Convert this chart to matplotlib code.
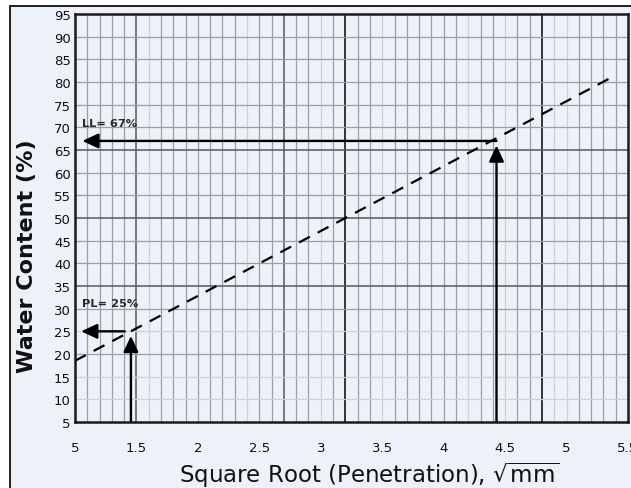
import matplotlib
matplotlib.use("Agg")
import matplotlib.pyplot as plt
from matplotlib.patches import Rectangle

# ---- data ----
x_ticks = [1.0, 1.5, 2.0, 2.5, 3.0, 3.5, 4.0, 4.5, 5.0, 5.5]
x_tick_labels = ["5", "1.5", "2", "2.5", "3", "3.5", "4", "4.5", "5", "5.5"]
y_ticks = [5, 10, 15, 20, 25, 30, 35, 40, 45, 50, 55, 60, 65, 70, 75, 80, 85, 90, 95]

# flow line (dashed)
flow_x = [1.0, 5.4]
flow_y = [18.5, 81.5]

# plastic limit / liquid limit readings
pl_value = 25
pl_root = 1.455
ll_value = 67
ll_root = 4.43

# grid shading for each 0.1 step (1.1 .. 5.4) and each 5 % step (10 .. 90)
x_grid_shade = "mmmmdlmmmmmmmlmmdmmlmkmmlmmmmmmlmmlmmkllmmmm"
y_grid_shade = "llmlmdmmdmmdmmmmm"

BG = "#edf1f8"
shade_color = {"l": ("#cdd2da", 0.9), "m": ("#9a9ea6", 0.9),
               "d": ("#55585d", 1.1), "k": ("#151515", 1.2)}

plt.rcParams["font.family"] = ["DejaVu Sans"]
plt.rcParams["mathtext.fontset"] = "dejavusans"

fig = plt.figure(figsize=(6.31, 4.89), dpi=100, facecolor="white")
fig.add_artist(Rectangle((9.5 / 631, -0.1), 1.2, 1.1 - 7 / 489,
                         transform=fig.transFigure, facecolor=BG,
                         edgecolor="#222222", linewidth=1.4, zorder=-10))

ax = fig.add_axes([75 / 631, 66 / 489, 553 / 631, 408 / 489])
ax.set_facecolor(BG)
ax.set_xlim(1.0, 5.5)
ax.set_ylim(5, 95)

# vertical grid
for i, s in enumerate(x_grid_shade):
    xv = 1.0 + 0.1 * (i + 1)
    c, lw = shade_color[s]
    ax.axvline(xv, color=c, lw=lw, zorder=1)
# horizontal grid
for i, s in enumerate(y_grid_shade):
    yv = 10 + 5 * i
    c, lw = shade_color[s]
    ax.axhline(yv, color=c, lw=lw, zorder=1)

# dashed flow line
ax.plot(flow_x, flow_y, color="black", lw=1.6, dashes=(5.5, 4.0), zorder=4)

arrow_kw = dict(arrowstyle="-|>,head_length=0.6,head_width=0.28",
                color="black", lw=1.7, shrinkA=0, shrinkB=0,
                mutation_scale=16)

# PL arrows
ax.annotate("", xy=(pl_root, pl_value - 1.0), xytext=(pl_root, 5),
            arrowprops=arrow_kw, zorder=5)
ax.annotate("", xy=(1.05, pl_value), xytext=(pl_root - 0.05, pl_value),
            arrowprops=arrow_kw, zorder=5)
# LL arrows
ax.annotate("", xy=(ll_root, ll_value - 1.0), xytext=(ll_root, 5),
            arrowprops=arrow_kw, zorder=5)
ax.annotate("", xy=(1.06, ll_value), xytext=(ll_root, ll_value),
            arrowprops=arrow_kw, zorder=5)

ax.text(1.055, 30.6, f"PL= {pl_value}%", fontsize=8.2, color="#2a2a2a",
        fontweight="bold", ha="left", va="baseline", zorder=6)
ax.text(1.06, 70.4, f"LL= {ll_value}%", fontsize=8.2, color="#2a2a2a",
        fontweight="bold", ha="left", va="baseline", zorder=6)

for sp in ax.spines.values():
    sp.set_color("#1a1a1a")
    sp.set_linewidth(1.8)
    sp.set_zorder(7)

ax.set_xticks(x_ticks)
ax.set_xticklabels(x_tick_labels)
ax.set_yticks(y_ticks)
ax.tick_params(axis="both", length=0, labelcolor="#111111")
ax.tick_params(axis="y", labelsize=9.5, pad=3)
ax.tick_params(axis="x", labelsize=9.5, pad=14)

ax.set_ylabel("Water Content (%)", fontsize=16, fontweight="bold",
              color="#111111")
ax.yaxis.set_label_coords(-0.068, 0.41)
ax.set_xlabel(r"Square Root (Penetration), $\sqrt{\mathrm{mm}}$",
              fontsize=16.5, color="#111111", va="center")
ax.xaxis.set_label_coords(0.532, -0.128)

fig.savefig("out.png", dpi=100, facecolor="white")
